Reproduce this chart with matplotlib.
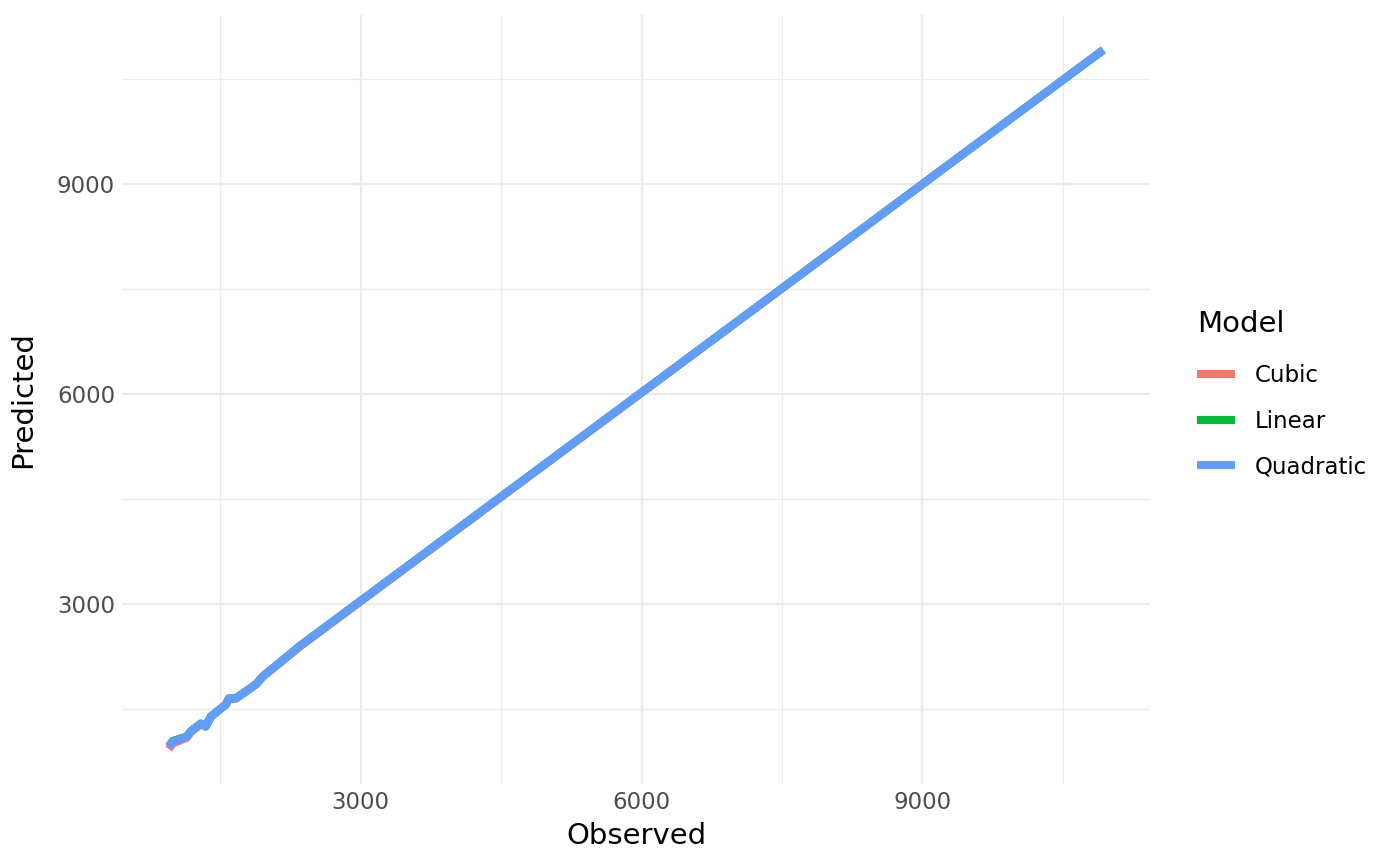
import matplotlib
matplotlib.use("Agg")
import matplotlib.pyplot as plt
from matplotlib.ticker import MultipleLocator

observed = [950, 993, 1142, 1185, 1292, 1345, 1399, 1559, 1591, 1666, 1879, 1954, 2359, 10932]
pred_cubic = [930, 1010, 1090, 1170, 1285, 1255, 1395, 1560, 1640, 1650, 1850, 1960, 2400, 10909]
pred_linear = [970, 1045, 1110, 1185, 1295, 1252, 1392, 1565, 1652, 1655, 1852, 1966, 2411, 10909]
pred_quadratic = [962, 1033, 1105, 1177, 1292, 1249, 1392, 1565, 1651, 1651, 1852, 1966, 2411, 10909]

models = ["Cubic", "Linear", "Quadratic"]
colors = ["#F8766D", "#00BA38", "#619CFF"]
series = [pred_cubic, pred_linear, pred_quadratic]

fig = plt.figure(figsize=(14, 8.66), dpi=100)
ax = fig.add_axes([122/1400, 1-784/866, (1150-122)/1400, (784-15)/866])

for name, col, ys in zip(models, colors, series):
    ax.plot(observed, ys, color=col, lw=5.8, solid_capstyle="butt", solid_joinstyle="round", label=name)

xmin, xmax = min(observed), max(observed)
allys = pred_cubic + pred_linear + pred_quadratic
ymin, ymax = min(allys), max(allys)
dx = (xmax - xmin) * 0.05
dy = (ymax - ymin) * 0.05
ax.set_xlim(xmin - dx, xmax + dx)
ax.set_ylim(ymin - dy, ymax + dy)

ax.xaxis.set_major_locator(MultipleLocator(3000))
ax.yaxis.set_major_locator(MultipleLocator(3000))
ax.xaxis.set_minor_locator(MultipleLocator(1500))
ax.yaxis.set_minor_locator(MultipleLocator(1500))
ax.grid(which="major", color="#EBEBEB", lw=1.6)
ax.grid(which="minor", color="#EBEBEB", lw=0.9)
ax.set_axisbelow(True)
for s in ax.spines.values():
    s.set_visible(False)
ax.tick_params(which="both", length=0, labelsize=16.5, labelcolor="#4D4D4D", pad=5)

ax.set_xlabel("Observed", fontsize=21, labelpad=6)
ax.set_ylabel("Predicted", fontsize=21, labelpad=14)

leg = ax.legend(loc="upper left", bbox_to_anchor=(1197/1400, 1-310/866), bbox_transform=fig.transFigure,
                frameon=False, title="Model", fontsize=16.5, title_fontsize=21,
                handlelength=1.65, handletextpad=0.85, labelspacing=0.98, borderaxespad=0,
                borderpad=0)
leg._legend_box.align = "left"
leg._legend_box.sep = 19.0

fig.savefig("out.png", dpi=100)
